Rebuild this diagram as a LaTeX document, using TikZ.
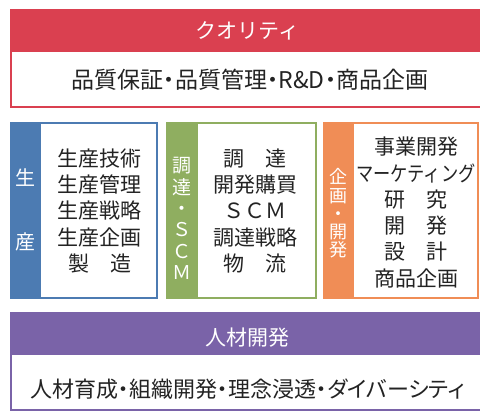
\documentclass[tikz,border=0pt]{standalone}
\usepackage{fontspec}
\setmainfont{Noto Sans CJK JP}
\newfontfamily\jpfont{Noto Sans CJK JP}
\newfontfamily\jppalt[RawFeature=+palt]{Noto Sans CJK JP}
\definecolor{cred}{RGB}{218,64,80}
\definecolor{cblue}{RGB}{76,123,178}
\definecolor{cgreen}{RGB}{143,174,96}
\definecolor{corange}{RGB}{240,141,86}
\definecolor{cpurple}{RGB}{122,99,168}
\definecolor{ctext}{RGB}{35,35,35}
\tikzset{
  panel/.style={draw=#1, line width=2pt, fill=white},
  band/.style={fill=#1, draw=none},
  headtxt/.style={text=white, font=\jpfont\fontsize{21}{24}\selectfont, inner sep=0pt},
  bodytxt/.style={text=ctext, inner sep=0pt},
  coltxt/.style={text=ctext, align=center, inner sep=0pt, font=\jpfont\fontsize{21}{26.3}\selectfont},
  vtxt/.style={text=white, align=center, inner sep=0pt}
}
\begin{document}
\begin{tikzpicture}[x=1pt,y=-1pt]
\useasboundingbox (0,0) rectangle (480,411);
\fill[white] (0,0) rectangle (480,411);
\clip (0,0) rectangle (480,411);
% Quality
\draw[panel=cred] (10.5,10) rectangle (486,107);
\fill[band=cred] (9.5,9) rectangle (487,52);
\node[headtxt] (qh) at (247.5,31) {クオリティ};
\node[bodytxt, font=\jppalt\fontsize{23}{26}\selectfont] (qb) at (250,80) {品質保証・品質管理・R\&D・商品企画};
% Production
\draw[panel=cblue] (11,123.5) rectangle (157,298.5);
\fill[band=cblue] (10,122.5) rectangle (41,299.5);
\node[text=white, inner sep=0pt, font=\jpfont\fontsize{20}{24}\selectfont] (p1) at (25.5,178) {生};
\node[text=white, inner sep=0pt, font=\jpfont\fontsize{20}{24}\selectfont] (p2) at (25.5,242) {産};
\node[coltxt] (pl) at (99.5,211) {生産技術\\生産管理\\生産戦略\\生産企画\\製　造};
% SCM
\draw[panel=cgreen] (167,123.5) rectangle (315.5,298.5);
\fill[band=cgreen] (166,122.5) rectangle (198,299.5);
\node[vtxt, font=\jpfont\fontsize{19}{21.4}\selectfont] (sl) at (181.5,218.5) {調\\達\\・\\Ｓ\\Ｃ\\Ｍ};
\node[coltxt] (sc) at (255,211) {調　達\\開発購買\\ＳＣＭ\\調達戦略\\物　流};
% Planning / development
\draw[panel=corange] (324,123.5) rectangle (477.5,298.5);
\fill[band=corange] (323,122.5) rectangle (354,299.5);
\node[vtxt, font=\jpfont\fontsize{18}{18.3}\selectfont] (ol) at (338,213.5) {企\\画\\・\\開\\発};
\node[coltxt] (oc) at (416,212.5) {事業開発\\\scalebox{0.82}[1]{マーケティング}\\研　究\\開　発\\設　計\\商品企画};
% HR
\draw[panel=cpurple] (11,313) rectangle (486,410);
\fill[band=cpurple] (10,312) rectangle (487,355);
\node[headtxt] (hh) at (247.5,338) {人材開発};
\node[bodytxt, font=\jppalt\fontsize{22}{26}\selectfont] (hb) at (247.5,389) {人材育成・組織開発・理念浸透・ダイバーシティ};
\end{tikzpicture}
\end{document}
